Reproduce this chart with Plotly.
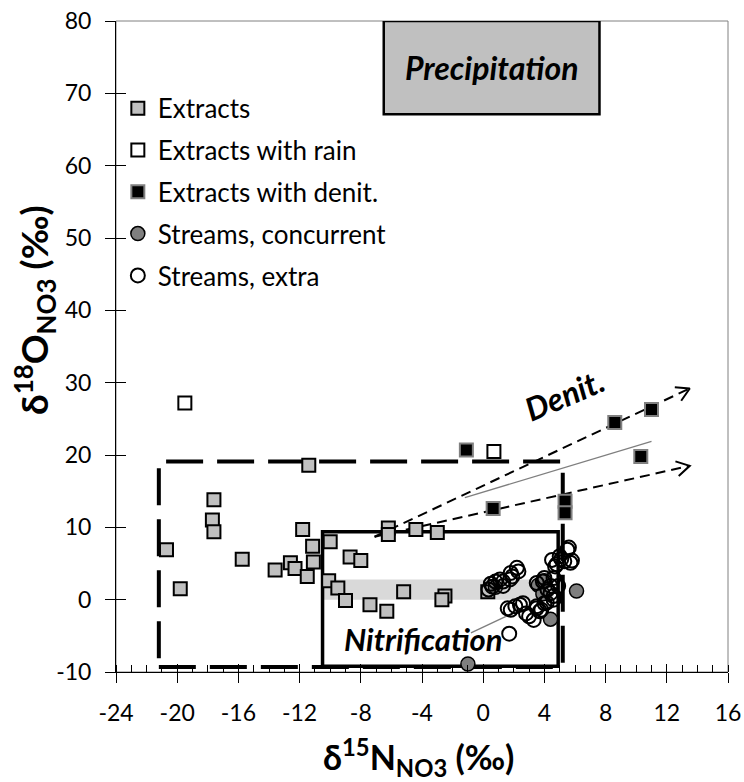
import math
import plotly.graph_objects as go

# ---- data -----------------------------------------------------------------
extracts_x = [-11.4, -17.6, -17.7, -17.6, -20.7, -19.8, -15.75, -11.8, -11.15, -11.1,
              -12.6, -13.6, -12.3, -11.5, -10.0, -10.1, -9.5, -9.0, -8.7, -8.0,
              -7.4, -6.3, -5.2, -6.2, -6.2, -4.4, -3.0, -2.5, -2.7, 0.3]
extracts_y = [18.6, 13.8, 11.0, 9.4, 6.9, 1.5, 5.6, 9.7, 7.4, 5.2,
              5.1, 4.1, 4.3, 3.2, 8.0, 2.6, 1.6, -0.1, 5.9, 5.4,
              -0.7, -1.6, 1.1, 9.9, 9.0, 9.7, 9.3, 0.5, 0.0, 1.1]

rain_x = [-19.5, 0.7]
rain_y = [27.2, 20.5]

denit_x = [-1.1, 0.65, 5.35, 5.35, 8.6, 11.0, 10.3]
denit_y = [20.7, 12.6, 13.6, 12.0, 24.5, 26.3, 19.8]

concurrent_x = [6.1, 4.4, -1.0, 3.6, 0.8, 4.0, 3.9]
concurrent_y = [1.2, -2.7, -8.9, 2.0, 1.7, 2.6, 0.8]

extra_x = [5.6, 5.5, 5.1, 5.7, 4.8, 5.3, 4.7, 5.0, 5.8, 4.5,
           2.2, 2.3, 1.8, 1.9, 1.1, 1.3, 0.8, 0.6, 1.3, 1.75, 0.35, 0.5,
           4.0, 3.9, 3.5, 4.2, 4.4, 4.6, 4.9, 4.6, 4.4, 4.6,
           1.6, 1.8, 2.1, 2.4, 2.6, 2.8, 3.0, 3.3, 3.5, 3.5, 3.7, 3.8, 4.0, 4.15,
           1.7]
extra_y = [7.2, 6.9, 5.6, 5.1, 4.9, 5.3, 4.6, 6.0, 5.4, 5.5,
           4.4, 3.9, 3.7, 3.2, 2.8, 2.5, 2.5, 1.8, 1.9, 2.8, 1.4, 2.2,
           3.0, 2.5, 2.3, 1.4, 1.9, 3.0, 1.9, 0.5, 0.9, 0.0,
           -1.2, -1.4, -0.9, -0.7, -0.5, -1.9, -2.3, -2.8, -0.9, -1.2, -1.6, -1.4, -0.5, -0.4,
           -4.7]

# trend lines
extract_trend_x = [-1.2, 11.0]
extract_trend_y = [14.1, 21.9]
stream_trend_x = [-0.8, 2.5]
stream_trend_y = [-4.6, -1.3]

# denitrification arrows (common origin, two tips)
arrow_origin = (-7.1, 8.7)
arrow_tips = [(13.5, 29.2), (13.5, 18.5)]

# source boxes: x0, x1, y0, y1
precip_box = (-6.5, 7.6, 67.1, 80.0)
nitrif_box = (-10.5, 4.9, -9.2, 9.4)
soil_box = (-21.2, 5.2, -9.3, 19.1)
band_box = (-10.5, 4.6, 0.0, 2.8)

# axes
X_RANGE = [-24, 16]
Y_RANGE = [-10, 80]
x_ticks = [-24, -20, -16, -12, -8, -4, 0, 4, 8, 12, 16]
y_ticks = [-10, 0, 10, 20, 30, 40, 50, 60, 70, 80]
x_tick_text = ["-24", "-20", "-16", "-12", "-8", "-4", "0", "4", "8", "12", "16"]
y_tick_text = ["-10", "0", "10", "20", "30", "40", "50", "60", "70", "80"]

# ---- figure geometry --------------------------------------------------------
W, H = 744, 782
ML, MR, MT, MB = 116, 16, 21, 110
PW, PH = W - ML - MR, H - MT - MB
SX = PW / (X_RANGE[1] - X_RANGE[0])
SY = PH / (Y_RANGE[1] - Y_RANGE[0])

FONT = "Lato"

fig = go.Figure()

# light band
fig.add_shape(type="rect", x0=band_box[0], x1=band_box[1], y0=band_box[2], y1=band_box[3],
              fillcolor="#d9d9d9", line_width=0, layer="below")
# dashed soil box
fig.add_shape(type="rect", x0=soil_box[0], x1=soil_box[1], y0=soil_box[2], y1=soil_box[3],
              line=dict(color="black", width=4, dash="37px,14px"), layer="below")
# nitrification box
fig.add_shape(type="rect", x0=nitrif_box[0], x1=nitrif_box[1], y0=nitrif_box[2], y1=nitrif_box[3],
              line=dict(color="black", width=3.5), layer="below")
# precipitation box
fig.add_shape(type="rect", x0=precip_box[0], x1=precip_box[1], y0=precip_box[2], y1=precip_box[3],
              fillcolor="#c0c0c0", line=dict(color="black", width=2.5), layer="below")

# trend lines
fig.add_trace(go.Scatter(x=extract_trend_x, y=extract_trend_y, mode="lines",
                         line=dict(color="#7f7f7f", width=1.3), showlegend=False, hoverinfo="skip"))
fig.add_trace(go.Scatter(x=stream_trend_x, y=stream_trend_y, mode="lines",
                         line=dict(color="#7f7f7f", width=1.3), showlegend=False, hoverinfo="skip"))

# dashed arrows with open heads
for tx, ty in arrow_tips:
    ox, oy = arrow_origin
    fig.add_trace(go.Scatter(x=[ox, tx], y=[oy, ty], mode="lines",
                             line=dict(color="black", width=2, dash="10px,6px"),
                             showlegend=False, hoverinfo="skip"))
    dx, dy = (tx - ox) * SX, (ty - oy) * SY
    ang = math.atan2(dy, dx)
    hx, hy = [], []
    for s in (1, -1):
        a = ang + math.pi + s * math.radians(30)
        hx.append(tx + 15 * math.cos(a) / SX)
        hy.append(ty + 15 * math.sin(a) / SY)
    fig.add_trace(go.Scatter(x=[hx[0], tx, hx[1]], y=[hy[0], ty, hy[1]], mode="lines",
                             line=dict(color="black", width=2),
                             showlegend=False, hoverinfo="skip"))

# data series
fig.add_trace(go.Scatter(x=extracts_x, y=extracts_y, mode="markers", name="Extracts",
                         legendgroup="a",
                         marker=dict(symbol="square", size=13, color="#c0c0c0",
                                     line=dict(color="black", width=2))))
fig.add_trace(go.Scatter(x=rain_x, y=rain_y, mode="markers", name="Extracts with rain",
                         legendgroup="b",
                         marker=dict(symbol="square", size=13, color="white",
                                     line=dict(color="black", width=2))))
fig.add_trace(go.Scatter(x=denit_x, y=denit_y, mode="markers", name="Extracts with denit.",
                         legendgroup="c",
                         marker=dict(symbol="square", size=13, color="black",
                                     line=dict(color="#808080", width=2))))
fig.add_trace(go.Scatter(x=concurrent_x, y=concurrent_y, mode="markers",
                         name="Streams, concurrent", legendgroup="d",
                         marker=dict(symbol="circle", size=14, color="#7f7f7f",
                                     line=dict(color="black", width=1.5))))
fig.add_trace(go.Scatter(x=extra_x, y=extra_y, mode="markers", name="Streams, extra",
                         legendgroup="e",
                         marker=dict(symbol="circle-open", size=14, color="black",
                                     line=dict(color="black", width=2))))

# empty trace to host the overlay axes used for the inner half of the major ticks
fig.add_trace(go.Scatter(x=[], y=[], xaxis="x2", yaxis="y2", showlegend=False,
                         hoverinfo="skip"))

# text labels
fig.add_annotation(x=(precip_box[0] + precip_box[1]) / 2, y=73.6, text="<b><i>Precipitation</i></b>",
                   showarrow=False, font=dict(family=FONT, size=32, color="black"))
fig.add_annotation(x=-3.9, y=-5.4, text="<b><i>Nitrification</i></b>",
                   showarrow=False, font=dict(family=FONT, size=31, color="black"))
fig.add_annotation(x=5.3, y=28.4, text="<b><i>Denit.</i></b>", textangle=-23,
                   showarrow=False, font=dict(family=FONT, size=32, color="black"))

# axis titles
fig.add_annotation(xref="paper", yref="paper", x=0.495, y=-0.132,
                   xanchor="center", yanchor="middle",
                   text="<b>δ<sup>15</sup>N<sub>NO3</sub> (‰)</b>", showarrow=False,
                   font=dict(family=FONT, size=34, color="black"))
fig.add_annotation(xref="paper", yref="paper", x=-0.134, y=0.556, textangle=-90,
                   xanchor="center", yanchor="middle",
                   text="<b>δ<sup>18</sup>O<sub>NO3</sub> (‰)</b>", showarrow=False,
                   font=dict(family=FONT, size=37, color="black"))

# plot-area frame
fig.add_shape(type="rect", xref="paper", yref="paper", x0=0, x1=1, y0=0, y1=1,
              line=dict(color="#808080", width=1), layer="below")

tick_font = dict(family=FONT, size=23, color="black")
fig.update_layout(
    width=W, height=H,
    margin=dict(l=ML, r=MR, t=MT, b=MB, pad=0),
    paper_bgcolor="white", plot_bgcolor="white",
    showlegend=True,
    legend=dict(x=0.003, y=0.902, xanchor="left", yanchor="top",
                font=dict(family=FONT, size=26, color="black"),
                bgcolor="rgba(0,0,0,0)", tracegroupgap=5, itemwidth=30),
    xaxis=dict(range=X_RANGE, tickmode="array", tickvals=x_ticks, ticktext=x_tick_text,
               ticks="outside", ticklen=10, tickcolor="black", tickwidth=1,
               showline=True, linecolor="black", linewidth=1, showgrid=False,
               zeroline=False, tickfont=tick_font, automargin=False, ticklabelstandoff=10,
               minor=dict(dtick=1, tick0=0, ticks="inside", ticklen=7, tickcolor="black",
                          showgrid=False)),
    yaxis=dict(range=Y_RANGE, tickmode="array", tickvals=y_ticks, ticktext=y_tick_text,
               ticks="outside", ticklen=10, tickcolor="black", tickwidth=1,
               showline=True, linecolor="black", linewidth=1, showgrid=False,
               zeroline=False, tickfont=tick_font, automargin=False, ticklabelstandoff=9),
    xaxis2=dict(range=X_RANGE, overlaying="x", anchor="y2", side="bottom",
                tickmode="array", tickvals=x_ticks,
                ticks="inside", ticklen=8, tickcolor="black", showticklabels=False,
                showline=False, showgrid=False, zeroline=False, automargin=False),
    yaxis2=dict(range=Y_RANGE, overlaying="y", anchor="x2", side="left",
                tickmode="array", tickvals=y_ticks,
                ticks="inside", ticklen=10, tickcolor="black", showticklabels=False,
                showline=False, showgrid=False, zeroline=False, automargin=False),
)

fig.write_html("out.html")
